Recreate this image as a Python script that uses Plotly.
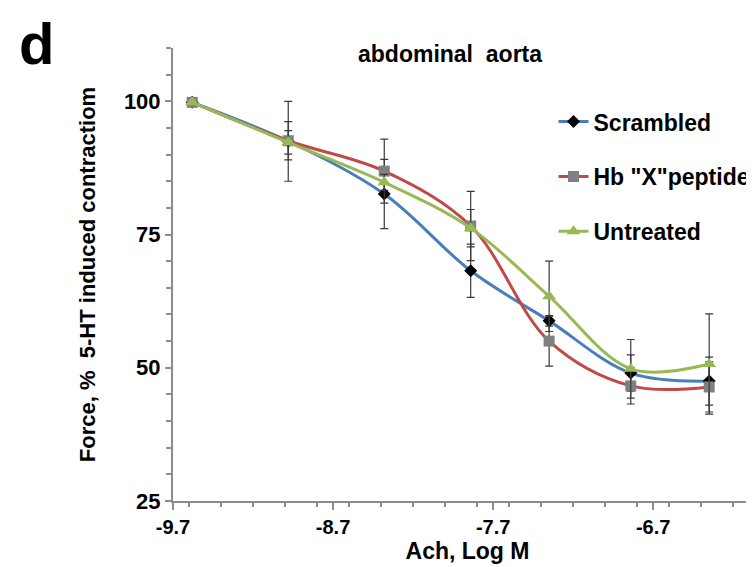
import plotly.graph_objects as go

# Data
log_ach = [-9.58, -8.98, -8.38, -7.84, -7.35, -6.84, -6.35]
scrambled = [99.8, 92.5, 82.6, 68.2, 58.8, 49.0, 47.5]
scrambled_err = [0, 7.5, 6.5, 5.0, 1.0, 3.4, 4.5]
hb_x = [99.8, 92.6, 86.9, 76.6, 55.0, 46.6, 46.4]
hb_x_err = [0, 3.6, 6.0, 6.5, 4.7, 3.4, 4.7]
untreated = [99.8, 92.3, 84.8, 76.2, 63.4, 49.8, 50.7]
untreated_err = [0, 2.2, 1.5, 3.5, 6.6, 5.5, 9.4]

x_ticks = [-9.7, -8.7, -7.7, -6.7]
y_ticks = [25, 50, 75, 100]

FONT = "Liberation Sans, Arial, sans-serif"
ERR = dict(type="data", visible=True, color="#3a3a3a", thickness=1.2, width=4)

series = [
    ("Scrambled", scrambled, scrambled_err, "#4a7ebb",
     dict(symbol="diamond", size=10, color="#000000")),
    ('Hb "X"peptide', hb_x, hb_x_err, "#be4b48",
     dict(symbol="square", size=11, color="#808080")),
    ("Untreated", untreated, untreated_err, "#98b954",
     dict(symbol="triangle-up", size=12, color="#98b954")),
]

fig = go.Figure()
for name, ys, errs, col, mk in series:
    fig.add_trace(go.Scatter(
        x=log_ach, y=ys, name=name, mode="lines+markers",
        line=dict(color=col, width=3, shape="spline", smoothing=1),
        marker=mk,
        error_y=dict(array=errs, **ERR),
        legendgroup=name,
    ))

fig.update_layout(
    width=754, height=567,
    margin=dict(l=165, r=0, t=40, b=74),
    paper_bgcolor="white", plot_bgcolor="white",
    font=dict(family=FONT, color="#000000", size=20, weight="bold"),
    showlegend=True,
    legend=dict(x=0.646, y=0.885, xanchor="left", yanchor="top",
                font=dict(size=23, family=FONT, weight="bold"),
                tracegroupgap=22, itemwidth=30,
                bgcolor="rgba(0,0,0,0)"),
    xaxis=dict(range=[-9.7, -6.02], tickmode="array", tickvals=x_ticks,
               ticktext=[str(v) for v in x_ticks],
               showgrid=False, zeroline=False, showline=True,
               linecolor="#8c8c8c", linewidth=2,
               ticks="outside", ticklen=7, tickwidth=2, tickcolor="#8c8c8c",
               minor=dict(dtick=0.2, ticks="outside", ticklen=4,
                          tickwidth=2, tickcolor="#8c8c8c", showgrid=False),
               tickfont=dict(size=20, family=FONT, weight="bold"),
               title=dict(text="Ach, Log M", standoff=6,
                          font=dict(size=23, family=FONT, weight="bold"))),
    yaxis=dict(range=[25, 110], tickmode="array", tickvals=y_ticks,
               showgrid=False, zeroline=False, showline=True,
               linecolor="#8c8c8c", linewidth=2,
               ticks="outside", ticklen=6, tickwidth=2, tickcolor="#8c8c8c",
               minor=dict(dtick=5, ticks="outside", ticklen=5,
                          tickwidth=2, tickcolor="#8c8c8c", showgrid=False),
               tickfont=dict(size=22, family=FONT, weight="bold"),
               title=dict(text="Force, %  5-HT induced contractiom", standoff=22,
                          font=dict(size=22, family=FONT, weight="bold"))),
    annotations=[
        dict(text="abdominal  aorta", xref="paper", yref="paper",
             x=0.471, y=0.987, xanchor="center", yanchor="middle", showarrow=False,
             font=dict(size=23, family=FONT, weight="bold")),
        dict(text="d", xref="paper", yref="paper", x=-0.265, y=1.085,
             xanchor="left", yanchor="top", showarrow=False,
             font=dict(size=58, family=FONT, weight="bold")),
    ],
)

fig.write_html("out.html")
